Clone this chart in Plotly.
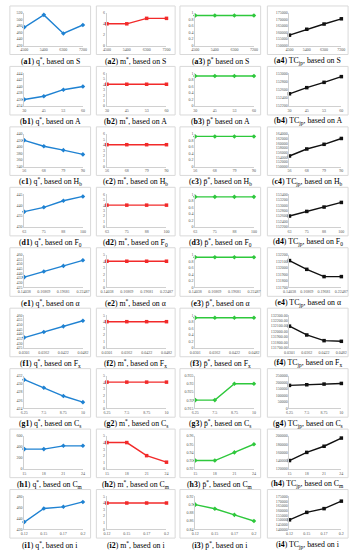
import plotly.graph_objects as go
from plotly.subplots import make_subplots

W, H = 357, 550

# ---------------- data ----------------
S_cats = ["4500", "5400", "6300", "7200"]
A_cats = ["30", "45", "53", "60"]
Hb_cats = ["56", "68", "79", "90"]
F0_cats = ["63", "75", "88", "100"]
alpha_cats = ["0.14038", "0.16869", "0.19681", "0.22487"]
Fx_cats = ["0.0301", "0.0362", "0.0422", "0.0482"]
Cs_cats = ["6.25", "7.5", "8.75", "10"]
Cm_cats = ["15", "18", "21", "24"]
i_cats = ["0.12", "0.15", "0.17", "0.2"]

q_S = [476, 514, 457, 483]
m_S = [4, 4, 5, 5]
p_S = [0.92, 0.92, 0.92, 0.92]
TC_S = [158000, 162500, 166500, 170500]

q_A = [436, 437, 439, 440]
m_A = [4, 4, 4, 4]
p_A = [0.92, 0.92, 0.92, 0.92]
TC_A = [152500, 152650, 152780, 152920]

q_Hb = [420, 402, 390, 377]
m_Hb = [4, 4, 4, 4]
p_Hb = [0.92, 0.92, 0.92, 0.92]
TC_Hb = [154500, 157500, 159500, 162000]

q_F0 = [437, 439, 442, 444]
m_F0 = [4, 4, 4, 4]
p_F0 = [0.92, 0.92, 0.92, 0.92]
TC_F0 = [152600, 152770, 152930, 153100]

q_alpha = [436, 442, 448, 454]
m_alpha = [4, 4, 4, 4]
p_alpha = [0.92, 0.92, 0.92, 0.92]
TC_alpha = [132110, 131976, 131865, 131865]

q_Fx = [436, 442, 448, 454]
m_Fx = [4, 4, 4, 4]
p_Fx = [0.92, 0.92, 0.92, 0.92]
TC_Fx = [132098, 131936, 131832, 131820]

q_Cs = [431, 429, 427, 425.5]
m_Cs = [4, 4, 4, 4]
p_Cs = [0.92, 0.92, 0.93, 0.93]
TC_Cs = [175000, 180000, 185000, 190000]

q_Cm = [360, 360, 420, 420]
m_Cm = [4, 4, 2, 1]
p_Cm = [0.93, 0.93, 0.94, 0.95]
TC_Cm = [140000, 160000, 175000, 195000]

q_i = [433, 458, 461, 470]
m_i = [4, 4, 4, 4]
p_i = [0.9, 0.89, 0.875, 0.86]
TC_i = [150000, 158000, 162000, 170000]

# y axis ticks per panel: (min, max, step, format)
rows = [
    ("a", "S", S_cats, [q_S, m_S, p_S, TC_S],
     [(420, 520, 20, "d"), (0, 6, 2, "d"), (0, 1, 0.2, "g"), (150000, 175000, 5000, "d")]),
    ("b", "A", A_cats, [q_A, m_A, p_A, TC_A],
     [(434, 444, 2, "d"), (0, 6, 1, "d"), (0, 1, 0.2, "g"), (152200, 153000, 200, "d")]),
    ("c", "H<sub>b</sub>", Hb_cats, [q_Hb, m_Hb, p_Hb, TC_Hb],
     [(340, 440, 20, "d"), (0, 6, 1, "d"), (0, 1, 0.2, "g"), (150000, 164000, 2000, "d")]),
    ("d", "F<sub>0</sub>", F0_cats, [q_F0, m_F0, p_F0, TC_F0],
     [(430, 445, 5, "d"), (0, 6, 1, "d"), (0, 1, 0.2, "g"), (152200, 153400, 200, "d")]),
    ("e", "α", alpha_cats, [q_alpha, m_alpha, p_alpha, TC_alpha],
     [(425, 460, 5, "d"), (0, 5, 1, "d"), (0, 1, 0.2, "g"), (131700, 132200, 100, "d")]),
    ("f", "F<sub>x</sub>", Fx_cats, [q_Fx, m_Fx, p_Fx, TC_Fx],
     [(425, 460, 5, "d"), (0, 5, 1, "d"), (0, 1, 0.2, "g"), (131700, 132300, 100, ".2f")]),
    ("g", "C<sub>s</sub>", Cs_cats, [q_Cs, m_Cs, p_Cs, TC_Cs],
     [(424, 432, 2, "d"), (0, 5, 1, "d"), (0.915, 0.935, 0.005, "g"), (0, 250000, 50000, "d")]),
    ("h", "C<sub>m</sub>", Cm_cats, [q_Cm, m_Cm, p_Cm, TC_Cm],
     [(0, 600, 200, "d"), (0, 5, 1, "d"), (0.92, 0.96, 0.01, "g"), (120000, 200000, 20000, "d")]),
    ("i", "i", i_cats, [q_i, m_i, p_i, TC_i],
     [(420, 480, 20, "d"), (0, 5, 1, "d"), (0.84, 0.92, 0.02, "g"), (140000, 175000, 5000, "d")]),
]

var_names = ["q<sup>*</sup>", "m<sup>*</sup>", "p\u0304<sup>*</sup>", "TC<sub>jp</sub>"]
colors = ["#1f82d2", "#f22a2a", "#2ec83c", "#111111"]
symbols = ["diamond", "square", "diamond", "square"]

# pixel geometry
col_box = [(3, 87), (93, 175), (180, 264), (271, 355)]
col_plot = [(18, 79), (104, 166), (196, 257), (294, 348)]
PITCH = 61

fig = make_subplots(rows=9, cols=4)

def fmt(v, f):
    if f == "d":
        return str(int(round(v)))
    if f == ".2f":
        return "%.2f" % v
    s = ("%.3f" % v).rstrip("0").rstrip(".")
    return s

shapes = []
annotations = []
for r, (letter, pname, cats, series, ticks) in enumerate(rows):
    off = PITCH * r
    for c in range(4):
        xs = list(range(len(cats)))
        fig.add_trace(go.Scatter(
            x=xs, y=series[c], mode="lines+markers",
            line=dict(color=colors[c], width=1.4),
            marker=dict(color=colors[c], size=3.5, symbol=symbols[c]),
            cliponaxis=False, showlegend=False), row=r + 1, col=c + 1)
        lo, hi, st, f = ticks[c]
        n = int(round((hi - lo) / st))
        tv = [lo + k * st for k in range(n + 1)]
        tt = [fmt(v, f) for v in tv]
        x0, x1 = col_plot[c]
        y0, y1 = 10 + off, 43 + off
        fig.update_xaxes(domain=[x0 / W, x1 / W], range=[0, 3],
                         tickvals=xs, ticktext=cats, showgrid=False, zeroline=False,
                         showline=True, linecolor="#d0d0d0", linewidth=1,
                         ticks="", tickfont=dict(size=4, family="Liberation Serif", color="#555"),
                         fixedrange=True, row=r + 1, col=c + 1)
        fig.update_yaxes(domain=[1 - y1 / H, 1 - y0 / H], range=[lo, hi],
                         tickvals=tv, ticktext=tt, showgrid=False, zeroline=False,
                         showline=True, linecolor="#d0d0d0", linewidth=1,
                         ticks="", tickfont=dict(size=4, family="Liberation Serif", color="#555"),
                         fixedrange=True, row=r + 1, col=c + 1)
        bx0, bx1 = col_box[c]
        shapes.append(dict(type="rect", xref="paper", yref="paper",
                           x0=bx0 / W, x1=bx1 / W, y0=1 - (52 + off) / H, y1=1 - (3 + off) / H,
                           line=dict(color="#d9d9d9", width=1), fillcolor="rgba(0,0,0,0)", layer="below"))
        sep = "" if (c == 2 and letter in ("a", "b")) else ","
        annotations.append(dict(
            xref="paper", yref="paper", x=(bx0 + bx1) / 2 / W, y=1 - (58.5 + off) / H,
            text="(<b>%s%d</b>) %s%s based on %s" % (letter, c + 1, var_names[c], sep, pname),
            showarrow=False, xanchor="center", yanchor="middle",
            font=dict(size=7.8, family="Liberation Serif", color="#000")))

fig.update_layout(width=W, height=H, margin=dict(l=0, r=0, t=0, b=0),
                  paper_bgcolor="white", plot_bgcolor="white",
                  shapes=shapes, annotations=annotations)
fig.write_html("out.html", config={"displayModeBar": False},
               post_script="document.body.style.margin='0';document.body.style.overflow='hidden';")
